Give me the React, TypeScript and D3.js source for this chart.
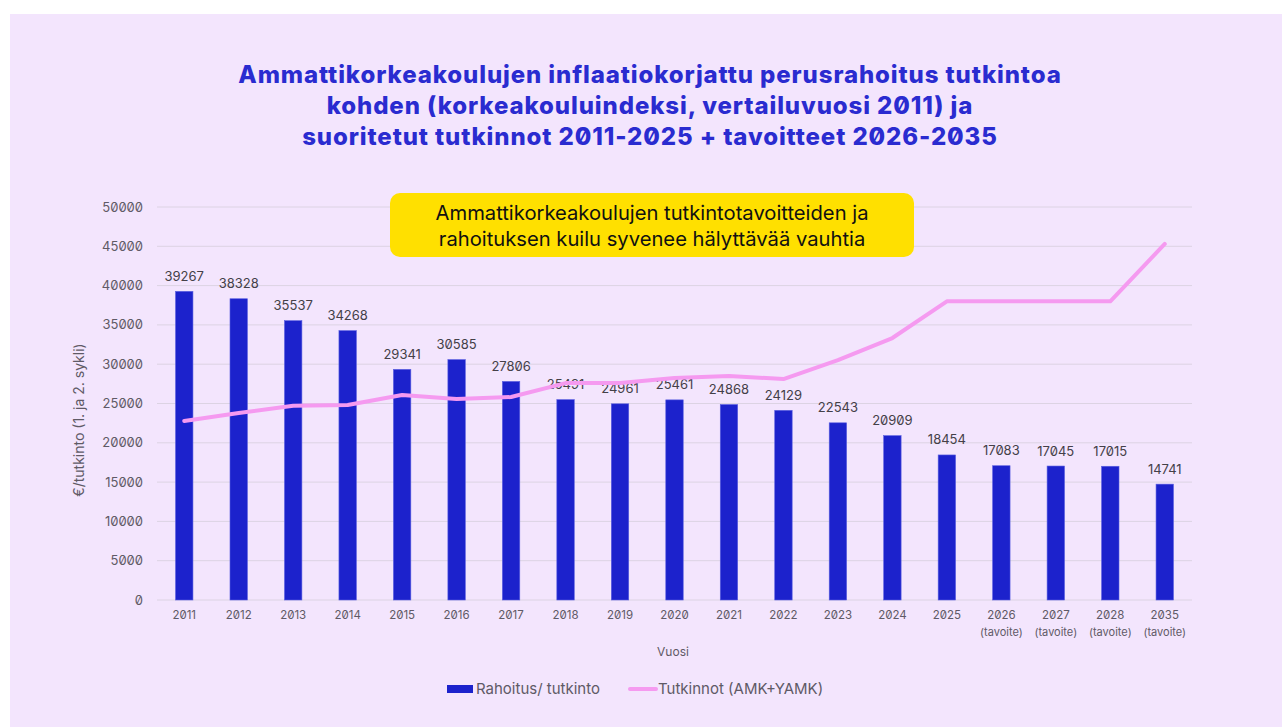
import React from "react";
import * as d3 from "d3";

const categories = ["2011","2012","2013","2014","2015","2016","2017","2018","2019","2020","2021","2022","2023","2024","2025","2026","2027","2028","2035"];
const subLabels = ["","","","","","","","","","","","","","","","(tavoite)","(tavoite)","(tavoite)","(tavoite)"];
const rahoitus = [39267,38328,35537,34268,29341,30585,27806,25491,24961,25461,24868,24129,22543,20909,18454,17083,17045,17015,14741];
const tutkinnot = [22770,23800,24700,24800,26080,25570,25820,27600,27600,28240,28500,28110,30530,33330,38000,38000,38000,38000,45300];
const yTicks = [0,5000,10000,15000,20000,25000,30000,35000,40000,45000,50000];
const titleLines = [
  "Ammattikorkeakoulujen inflaatiokorjattu perusrahoitus tutkintoa",
  "kohden (korkeakouluindeksi, vertailuvuosi 2011) ja",
  "suoritetut tutkinnot 2011-2025 + tavoitteet 2026-2035",
];
const calloutLines = ["Ammattikorkeakoulujen tutkintotavoitteiden ja", "rahoituksen kuilu syvenee hälyttävää vauhtia"];

const W = 1282, H = 727;
const left = 157, right = 1192, top = 207, bottom = 600;
const BAR = "#1C22CC";
const LINE = "#F59AF0";
const FONT = "Inter, 'Noto Sans', sans-serif";
const feat = { fontFeatureSettings: "'zero'" } as React.CSSProperties;

export default function App() {
  const x = d3.scaleBand<string>().domain(categories).range([left, right]).paddingInner(0.68).paddingOuter(0.34);
  const y = d3.scaleLinear().domain([0, 50000]).range([bottom, top]);
  const cx = (c: string) => (x(c) as number) + x.bandwidth() / 2;
  const line = d3.line<number>().x((_, i) => cx(categories[i])).y((d) => y(d));

  return (
    <svg width={W} height={H} style={{ position: "absolute", left: 0, top: 0, fontFamily: FONT }}>
      <rect x={10} y={14} width={W - 10} height={H - 14} fill="#F3E5FD" />
      {titleLines.map((t, i) => (
        <text key={i} x={650} y={83 + i * 31} textAnchor="middle" fontSize={24} letterSpacing={0.9} fontWeight={800} fill="#2A2BD0" style={feat}>{t}</text>
      ))}
      {yTicks.map((t) => (
        <g key={t}>
          <line x1={left} x2={right} y1={y(t)} y2={y(t)} stroke="#DCD3E3" strokeWidth={1} />
          <text x={143} y={y(t) + 4.5} textAnchor="end" fontSize={13} fill="#5F5A66" style={feat}>{t}</text>
        </g>
      ))}
      <text transform={`translate(84,420) rotate(-90)`} textAnchor="middle" fontSize={14} fill="#5F5A66">€/tutkinto (1. ja 2. sykli)</text>
      {categories.map((c, i) => (
        <g key={c}>
          <rect x={x(c)} y={y(rahoitus[i])} width={x.bandwidth()} height={bottom - y(rahoitus[i])} fill={BAR} stroke="#5A5FE0" strokeWidth={0.6} />
          <text x={cx(c)} y={y(rahoitus[i]) - 10.5} textAnchor="middle" fontSize={13} fill="#444048" style={feat}>{rahoitus[i]}</text>
          <text x={cx(c)} y={619} textAnchor="middle" fontSize={11.5} fill="#5F5A66" style={feat}>{c}</text>
          {subLabels[i] && <text x={cx(c)} y={636} textAnchor="middle" fontSize={11} fill="#5F5A66">{subLabels[i]}</text>}
        </g>
      ))}
      <path d={line(tutkinnot) || ""} fill="none" stroke={LINE} strokeWidth={4} strokeLinejoin="round" strokeLinecap="round" />
      <text x={673} y={656} textAnchor="middle" fontSize={12} fill="#5F5A66">Vuosi</text>
      <rect x={390} y={193} width={524} height={64} rx={10} fill="#FFE000" />
      {calloutLines.map((t, i) => (
        <text key={i} x={652} y={220 + i * 26} textAnchor="middle" fontSize={20.2} fill="#111">{t}</text>
      ))}
      <rect x={447} y={685} width={26} height={8} fill={BAR} />
      <text x={476} y={694} fontSize={15} fill="#5F5A66">Rahoitus/ tutkinto</text>
      <line x1={630} x2={656} y1={689} y2={689} stroke={LINE} strokeWidth={4} strokeLinecap="round" />
      <text x={658} y={694} fontSize={15} fill="#5F5A66">Tutkinnot (AMK+YAMK)</text>
    </svg>
  );
}
